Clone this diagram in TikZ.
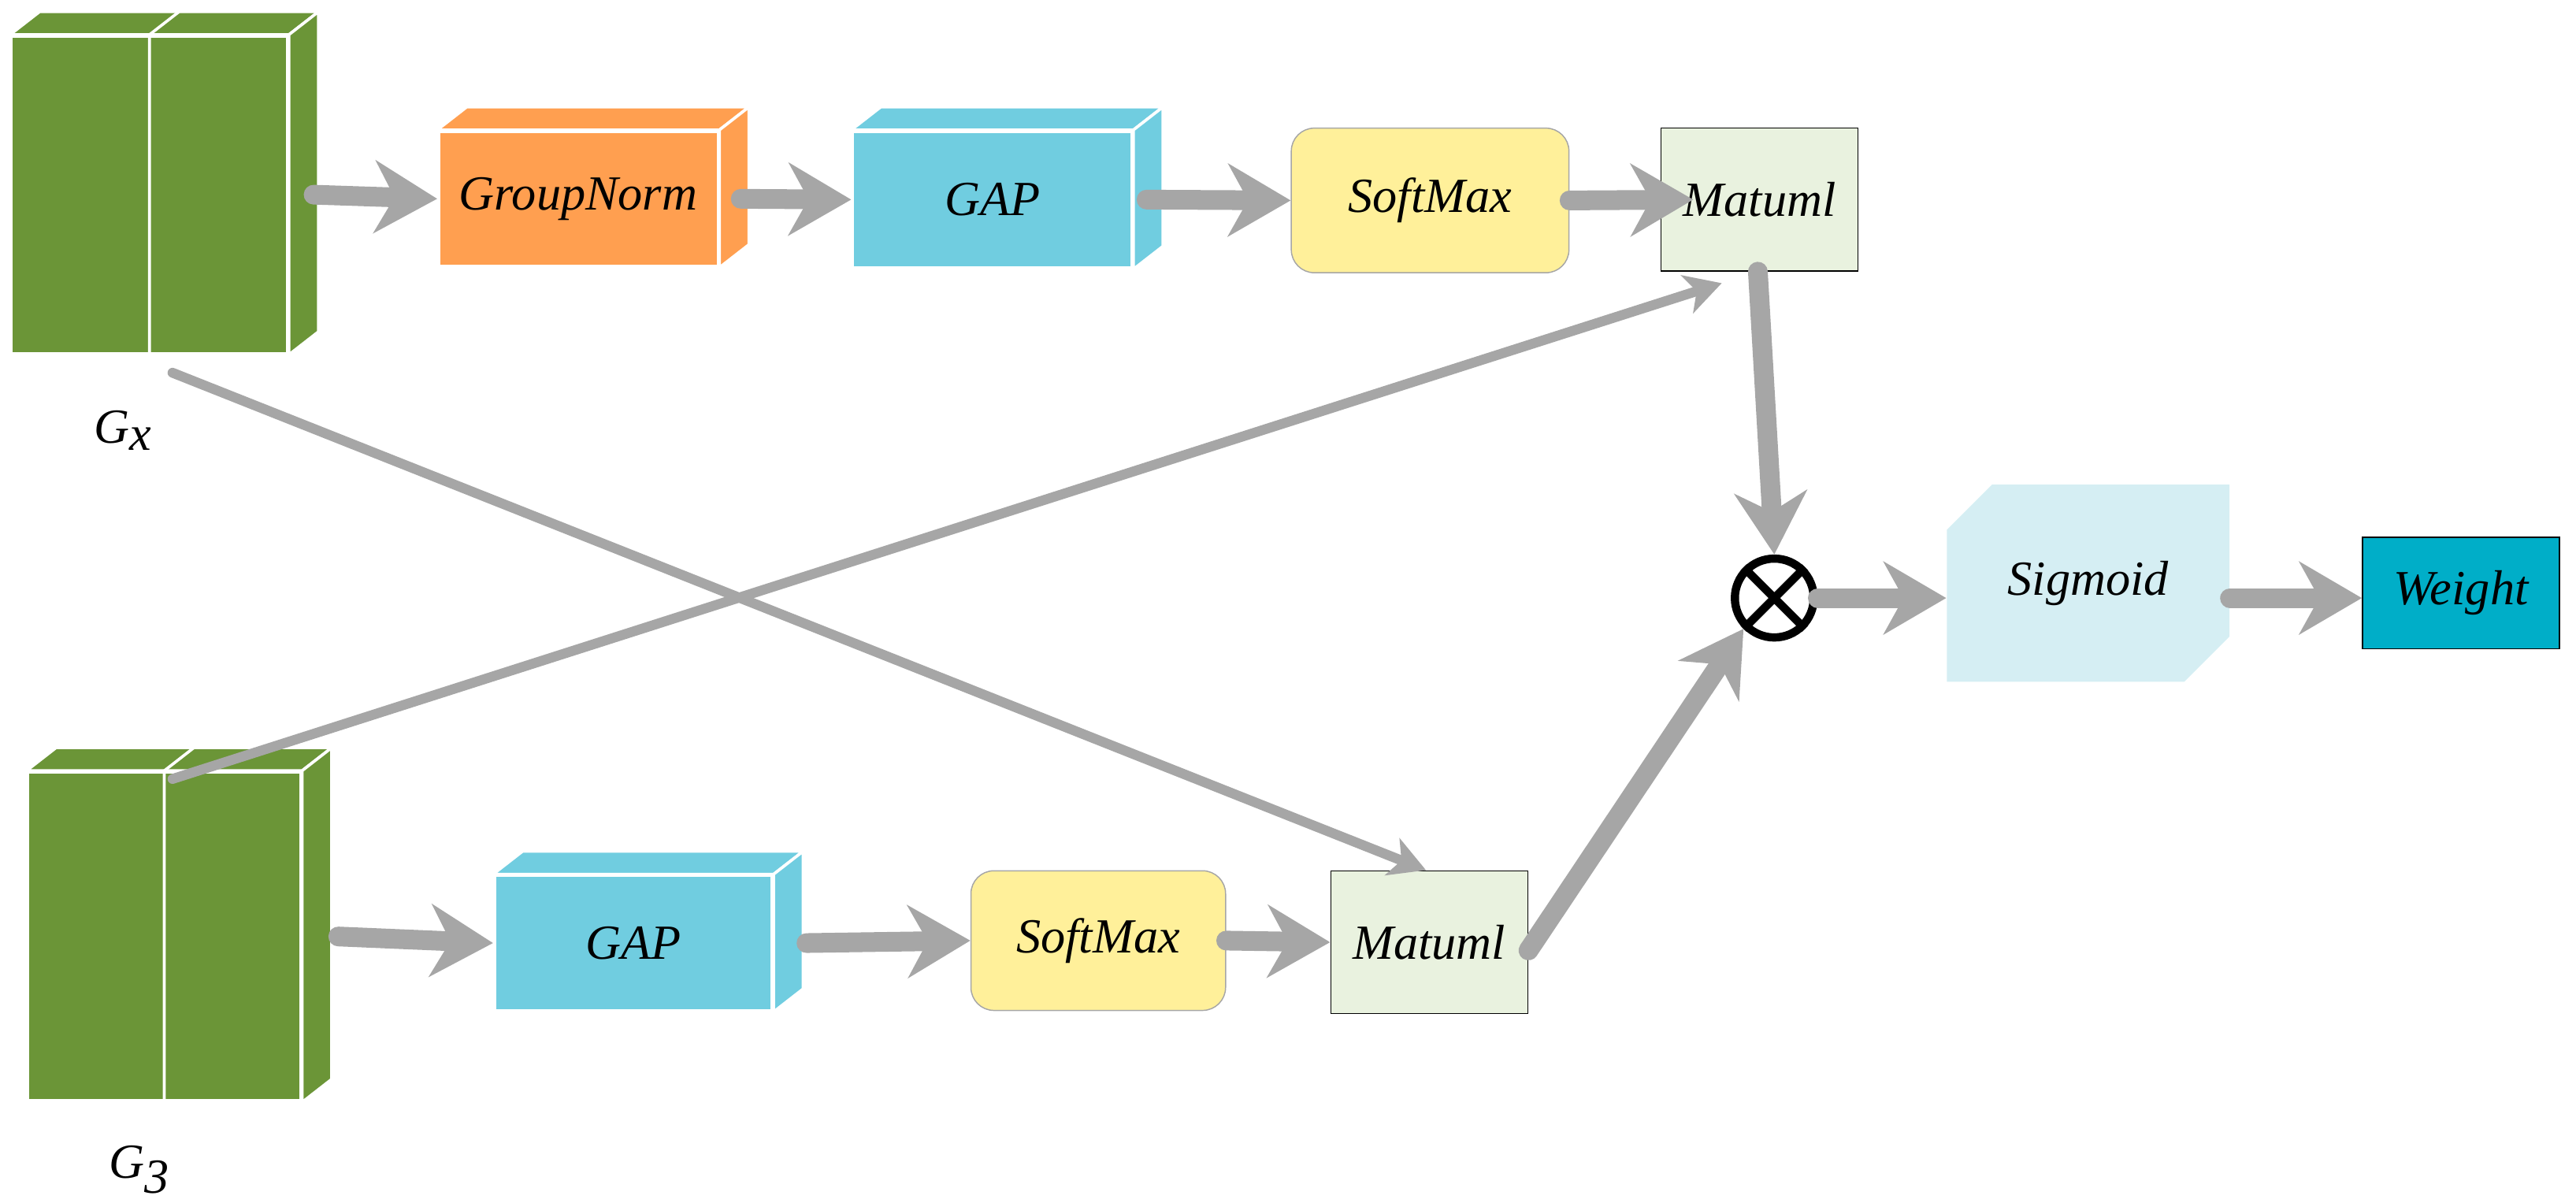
\documentclass[tikz,border=0pt]{standalone}
\usepackage{fontspec}
\setmainfont{Liberation Serif}
\usetikzlibrary{arrows.meta,shapes.misc}
\newlength\pu
\setlength\pu{0.02cm}
\definecolor{featgreen}{HTML}{6B9537}
\definecolor{normorange}{HTML}{FF9F50}
\definecolor{gapblue}{HTML}{70CDE0}
\definecolor{softyellow}{HTML}{FFF09A}
\definecolor{matgreen}{HTML}{E9F2DF}
\definecolor{sigblue}{HTML}{D5EEF3}
\definecolor{weightblue}{HTML}{00AEC8}
\definecolor{arrowgray}{HTML}{A6A6A6}
% side and top faces of a box node
\newcommand\boxfaces[4]{%
  \path[fill=#2,draw=white,line width=1pt] (#1.north west) -- ++(#3,-#4)
    -- ([shift={(#3\pu,#4\pu)}]#1.north east) -- (#1.north east) -- cycle;
  \path[fill=#2,draw=white,line width=1pt] (#1.north east) -- ++(#3,-#4)
    -- ([shift={(#3\pu,#4\pu)}]#1.south east) -- (#1.south east) -- cycle;
}
\begin{document}
\begin{tikzpicture}[
    x=1\pu,y=-1\pu,
    txt/.style={font=\fontsize{17}{20}\selectfont\itshape},
    feat/.style={fill=featgreen,draw=white,line width=1pt,inner sep=0pt},
    block/.style={txt,inner sep=0pt,draw=white,line width=1pt},
    flow/.style={draw=arrowgray,line width=0.24cm,line cap=round,
      -{Stealth[length=0.76cm,width=0.88cm,inset=0.24cm]}},
    link/.style={draw=arrowgray,line width=0.12cm,line cap=round,
      -{Stealth[length=0.44cm,width=0.48cm,inset=0.12cm]}},
  ]
  \useasboundingbox (0,0) rectangle (1568,732);
  % feature maps
  \node[feat,minimum width=168\pu,minimum height=193\pu] (Gx) at (91,118.5) {};
  \boxfaces{Gx}{featgreen}{18}{14}
  \draw[white,line width=1pt] (Gx.north) -- (Gx.south) (Gx.north) -- ++(18,-14);
  \node[txt] (Gxlab) at (75,262) {G$_{\textit{x}}$};
  \node[feat,minimum width=166\pu,minimum height=200\pu] (G3) at (100,570) {};
  \boxfaces{G3}{featgreen}{18}{14}
  \draw[white,line width=1pt] (G3.north) -- (G3.south) (G3.north) -- ++(18,-14);
  \node[txt] (G3lab) at (85,712) {G$_{\textit{3}}$};
  % upper branch
  \node[block,fill=normorange,minimum width=170\pu,minimum height=82\pu] (GN) at (352,121) {GroupNorm};
  \boxfaces{GN}{normorange}{18}{14}
  \node[block,fill=gapblue,minimum width=170\pu,minimum height=83\pu] (GAPt) at (604,121.5) {GAP};
  \boxfaces{GAPt}{gapblue}{18}{14}
  \node[txt,fill=softyellow,draw=black!35,rounded corners=0.28cm,minimum width=169\pu,minimum height=88\pu] (SMt) at (870.5,122) {SoftMax};
  \node[txt,fill=matgreen,draw=black,minimum width=120\pu,minimum height=87\pu] (MMt) at (1071,121.5) {Matuml};
  % lower branch
  \node[block,fill=gapblue,minimum width=169\pu,minimum height=82\pu] (GAPb) at (385.5,574) {GAP};
  \boxfaces{GAPb}{gapblue}{18}{14}
  \node[txt,fill=softyellow,draw=black!35,rounded corners=0.28cm,minimum width=155\pu,minimum height=85\pu] (SMb) at (668.5,572.5) {SoftMax};
  \node[txt,fill=matgreen,draw=black,minimum width=120\pu,minimum height=87\pu] (MMb) at (870,573.5) {Matuml};
  % fusion
  \node[circle,draw=black,line width=0.1cm,minimum size=48\pu,inner sep=0pt] (ot) at (1080,364) {};
  \draw[line width=0.1cm] (ot.north west) -- (ot.south east) (ot.north east) -- (ot.south west);
  \node[txt,fill=sigblue,chamfered rectangle,chamfered rectangle corners={north west,south east},
    chamfered rectangle xsep=0.4cm,chamfered rectangle ysep=0.28cm,
    minimum width=172\pu,minimum height=120\pu,inner sep=0pt] (Sig) at (1271,355) {Sigmoid};
  \node[txt,fill=weightblue,draw=black,minimum width=120\pu,minimum height=68\pu] (W) at (1498,361) {Weight};
  % connectors
  \draw[flow] ([xshift=15\pu]Gx.east) -- (GN.west);
  \draw[flow] ([xshift=13\pu]GN.east) -- (GAPt.west);
  \draw[flow] ([xshift=8\pu]GAPt.east) -- (SMt.west);
  \draw[flow] (SMt.east) -- ([xshift=20\pu]MMt.west);
  \draw[flow] ([xshift=22\pu]G3.east) -- (GAPb.west);
  \draw[flow] ([xshift=20\pu]GAPb.east) -- (SMb.west);
  \draw[flow] (SMb.east) -- (MMb.west);
  \draw[flow] ([xshift=-1\pu]MMt.south) -- (ot.north);
  \draw[flow] ([yshift=-5\pu]MMb.east) -- (ot.south west);
  \draw[flow] (ot.east) -- (ot.east -| Sig.west);
  \draw[flow] (ot.east -| Sig.east) -- (ot.east -| W.west);
  \draw[link] ([shift={(14\pu,-11\pu)}]Gx.south) -- ([xshift=-2\pu]MMb.north);
  \draw[link] ([shift={(5\pu,-5\pu)}]G3.north) -- ([shift={(-23\pu,-7\pu)}]MMt.south);
\end{tikzpicture}
\end{document}
